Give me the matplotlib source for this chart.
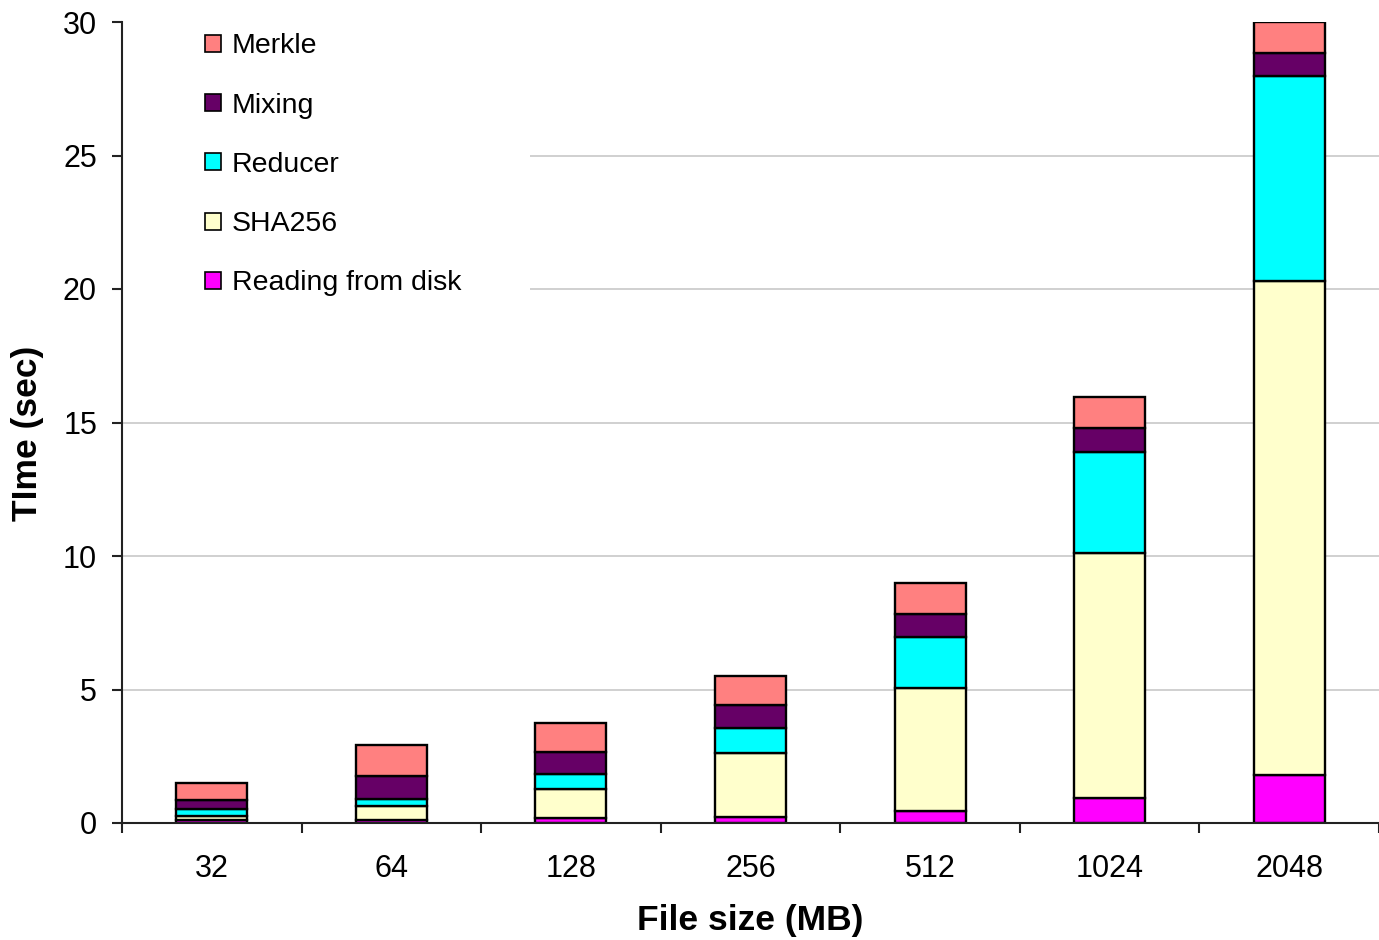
"""Stacked bar breakdown of processing time per file size."""
import matplotlib
matplotlib.use("Agg")
import matplotlib.pyplot as plt
from matplotlib.patches import Patch, Rectangle
import numpy as np

plt.rcParams["font.family"] = ["Liberation Sans", "DejaVu Sans"]

file_sizes = ["32", "64", "128", "256", "512", "1024", "2048"]

# seconds spent in each stage, bottom of the stack first
reading = [0.10, 0.12, 0.19, 0.24, 0.46, 0.94, 1.80]
sha256 = [0.18, 0.52, 1.08, 2.38, 4.60, 9.18, 18.50]
reducer = [0.25, 0.26, 0.57, 0.94, 1.91, 3.78, 7.69]
mixing = [0.33, 0.87, 0.83, 0.86, 0.86, 0.90, 0.86]
merkle = [0.62, 1.15, 1.09, 1.08, 1.16, 1.16, 1.15]

stages = ["Reading from disk", "SHA256", "Reducer", "Mixing", "Merkle"]
stage_values = [reading, sha256, reducer, mixing, merkle]
stage_colors = ["#FF00FF", "#FFFFCC", "#00FFFF", "#660066", "#FF8080"]

fig = plt.figure(figsize=(13.79, 9.40), dpi=100)
ax = fig.add_axes([122 / 1379, 117 / 940, 1257 / 1379, 801 / 940])

x = np.arange(len(file_sizes))
bottom = np.zeros(len(file_sizes))
for name, vals, color in zip(stages, stage_values, stage_colors):
    vals = np.asarray(vals)
    ax.bar(x, vals, width=0.395, bottom=bottom, color=color,
           edgecolor="black", linewidth=1.7, label=name, zorder=2)
    bottom += vals

ax.set_xlim(-0.5, len(file_sizes) - 0.5)
ax.set_ylim(0, 30)
ax.set_yticks(np.arange(0, 31, 5))
ax.yaxis.grid(True, color="#c8c8c8", linewidth=1.2)
ax.set_axisbelow(True)
# no gridline along the top of the plot
ax.yaxis.get_gridlines()[-1].set_visible(False)

# blank area behind the legend hides the gridlines there
ax.add_patch(Rectangle((0.0, 0.55), 0.3246, 0.45, transform=ax.transAxes,
                       facecolor="white", edgecolor="none", zorder=1))

for side in ("top", "right"):
    ax.spines[side].set_visible(False)
for side in ("left", "bottom"):
    ax.spines[side].set_color("#222222")
    ax.spines[side].set_linewidth(1.5)

ax.set_xticks(x)
ax.set_xticklabels(file_sizes)
ax.set_xticks(np.arange(-0.5, len(file_sizes)), minor=True)
ax.tick_params(axis="x", which="major", length=0, pad=22, labelsize=22)
ax.tick_params(axis="x", which="minor", length=7, width=1.5,
               direction="out", color="#222222")
ax.tick_params(axis="y", length=7, width=1.5, direction="out",
               color="#222222", pad=11, labelsize=22)

ax.set_xlabel("File size (MB)", fontsize=25.5, fontweight="bold", labelpad=15)
ax.set_ylabel("TIme (sec)", fontsize=25.5, fontweight="bold")
ax.yaxis.set_label_coords(-0.062, 0.487)

handles = [Patch(facecolor=c, edgecolor="black", linewidth=1.2)
           for c in stage_colors][::-1]
ax.legend(handles, stages[::-1], loc="upper left",
          bbox_to_anchor=(0.066, 0.986), frameon=False, fontsize=20.5,
          borderpad=0, borderaxespad=0, handlelength=0.55, handleheight=0.55,
          handletextpad=0.4, labelspacing=1.17)

fig.savefig("out.png", dpi=100)
